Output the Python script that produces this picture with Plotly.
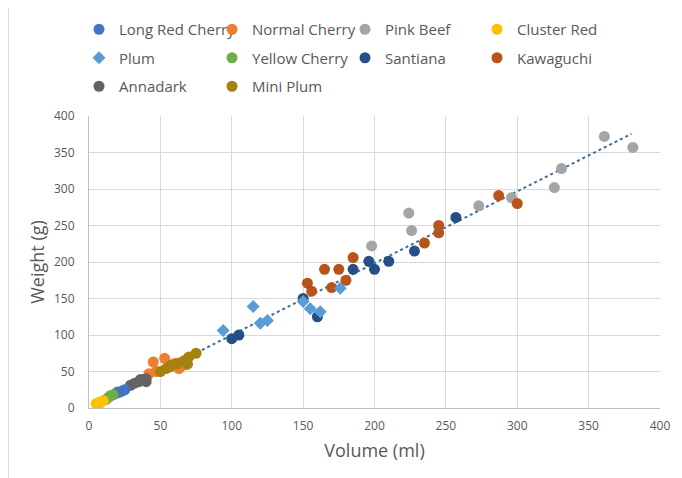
import plotly.graph_objects as go

# ---- data (volume ml, weight g) ----
long_red_cherry_vol = [19, 20, 22, 24, 25]
long_red_cherry_wt = [20, 22, 22, 24, 25]
normal_cherry_vol = [42, 45, 47, 53, 58, 60, 63, 65, 67]
normal_cherry_wt = [47, 63, 50, 68, 57, 61, 54, 63, 59]
pink_beef_vol = [198, 224, 226, 273, 296, 326, 331, 361, 381]
pink_beef_wt = [222, 267, 243, 277, 288, 302, 328, 372, 357]
cluster_red_vol = [5, 7, 8, 10]
cluster_red_wt = [6, 8, 7, 10]
plum_vol = [94, 115, 120, 125, 150, 155, 162, 176]
plum_wt = [106, 139, 116, 120, 146, 136, 132, 164]
yellow_cherry_vol = [12, 14, 15, 17]
yellow_cherry_wt = [12, 15, 17, 18]
santiana_vol = [100, 105, 150, 160, 185, 196, 200, 210, 228, 257]
santiana_wt = [95, 100, 150, 125, 190, 201, 190, 201, 215, 261]
kawaguchi_vol = [153, 156, 165, 170, 175, 180, 185, 235, 245, 245, 287, 300]
kawaguchi_wt = [171, 160, 190, 165, 190, 175, 206, 226, 250, 240, 291, 280]
annadark_vol = [29, 32, 35, 36, 38, 40, 40]
annadark_wt = [31, 34, 36, 39, 39, 36, 40]
mini_plum_vol = [50, 54, 56, 58, 62, 67, 69, 70, 75]
mini_plum_wt = [50, 54, 56, 59, 61, 65, 60, 70, 75]

trend_vol = [4, 380]
trend_wt = [5.5, 375.5]

x_ticks = [0, 50, 100, 150, 200, 250, 300, 350, 400]
y_ticks = [0, 50, 100, 150, 200, 250, 300, 350, 400]

# series: name, x, y, color, symbol, legend id
series = [
    ("Long Red Cherry", long_red_cherry_vol, long_red_cherry_wt, "#4472C4", "circle", "legend"),
    ("Plum", plum_vol, plum_wt, "#5B9BD5", "diamond", "legend"),
    ("Annadark", annadark_vol, annadark_wt, "#636363", "circle", "legend"),
    ("Normal Cherry", normal_cherry_vol, normal_cherry_wt, "#ED7D31", "circle", "legend2"),
    ("Yellow Cherry", yellow_cherry_vol, yellow_cherry_wt, "#70AD47", "circle", "legend2"),
    ("Mini Plum", mini_plum_vol, mini_plum_wt, "#A5820F", "circle", "legend2"),
    ("Pink Beef", pink_beef_vol, pink_beef_wt, "#A5A5A5", "circle", "legend3"),
    ("Santiana", santiana_vol, santiana_wt, "#264F86", "circle", "legend3"),
    ("Cluster Red", cluster_red_vol, cluster_red_wt, "#FFC000", "circle", "legend4"),
    ("Kawaguchi", kawaguchi_vol, kawaguchi_wt, "#B8531A", "circle", "legend4"),
]

draw_order = ["Pink Beef", "Kawaguchi", "Santiana", "Plum", "Normal Cherry", "Mini Plum",
              "Annadark", "Long Red Cherry", "Yellow Cherry", "Cluster Red"]

fig = go.Figure()

fig.add_trace(go.Scatter(
    x=trend_vol, y=trend_wt, mode="lines",
    line=dict(color="#3C6E9F", width=2, dash="dot"),
    showlegend=False, hoverinfo="skip"))

lookup = {s[0]: s for s in series}
legend_rank = {s[0]: i for i, s in enumerate(series)}
for nm in draw_order:
    name, xs, ys, col, sym, leg = lookup[nm]
    fig.add_trace(go.Scatter(
        x=xs, y=ys, mode="markers", name=name,
        marker=dict(color=col, symbol=sym, size=11 if sym == "circle" else 10,
                    line=dict(width=0)),
        legend=leg, legendgroup=name, legendrank=legend_rank[name]))

# page body has an 8px margin: figure is placed at (8, 8) in the window
OFF = 8
W, H = 682 - OFF, 478 - OFF
plot_left, plot_right, plot_top, plot_bottom = 89, 660, 116, 408  # window pixels
ml = plot_left - OFF
mr = W - (plot_right - OFF)
mt = plot_top - OFF
mb = H - (plot_bottom - OFF)
pw, ph = W - ml - mr, H - mt - mb


def px_to_paper_x(px):
    return (px - OFF - ml) / pw


def py_to_paper_y(py):
    return (H - mb - (py - OFF)) / ph


FONT = "Open Sans, Noto Sans, sans-serif"
legend_font = dict(family=FONT, size=15, color="#595959")
leg_common = dict(orientation="v", xanchor="left", yanchor="top", font=legend_font,
                  bgcolor="rgba(0,0,0,0)", tracegroupgap=6, itemwidth=30,
                  itemclick=False, itemdoubleclick=False)
dot_px = [104, 237, 370, 502]
top_py = 13

layout_legends = {}
for i, key in enumerate(["legend", "legend2", "legend3", "legend4"]):
    layout_legends[key] = dict(leg_common, x=px_to_paper_x(dot_px[i] - 25),
                               y=py_to_paper_y(top_py))

axis_font = dict(family=FONT, size=12, color="#595959")
title_font = dict(family=FONT, size=18, color="#595959")

fig.update_layout(
    width=W, height=H,
    margin=dict(l=ml, r=mr, t=mt, b=mb, autoexpand=False),
    paper_bgcolor="white", plot_bgcolor="white",
    **layout_legends,
    xaxis=dict(range=[0, 400], tickvals=x_ticks, ticktext=[str(v) for v in x_ticks],
               showgrid=True, gridcolor="#D9D9D9", gridwidth=1,
               showline=True, linecolor="#BFBFBF", linewidth=1,
               zeroline=False, ticks="", tickfont=axis_font, ticklabelstandoff=7,
               title=dict(text="Volume (ml)", font=title_font, standoff=10)),
    yaxis=dict(range=[0, 400], tickvals=y_ticks, ticktext=[str(v) for v in y_ticks],
               showgrid=True, gridcolor="#D9D9D9", gridwidth=1,
               showline=True, linecolor="#BFBFBF", linewidth=1,
               zeroline=False, ticks="", tickfont=axis_font, ticklabelstandoff=11,
               title=dict(text="Weight (g)", font=title_font, standoff=4)),
    shapes=[dict(type="rect", xref="paper", yref="paper",
                 x0=px_to_paper_x(8.5), x1=px_to_paper_x(681),
                 y0=py_to_paper_y(480), y1=py_to_paper_y(7),
                 line=dict(color="#D9D9D9", width=1), fillcolor="rgba(0,0,0,0)",
                 layer="below")],
)

fig.write_html("out.html")
